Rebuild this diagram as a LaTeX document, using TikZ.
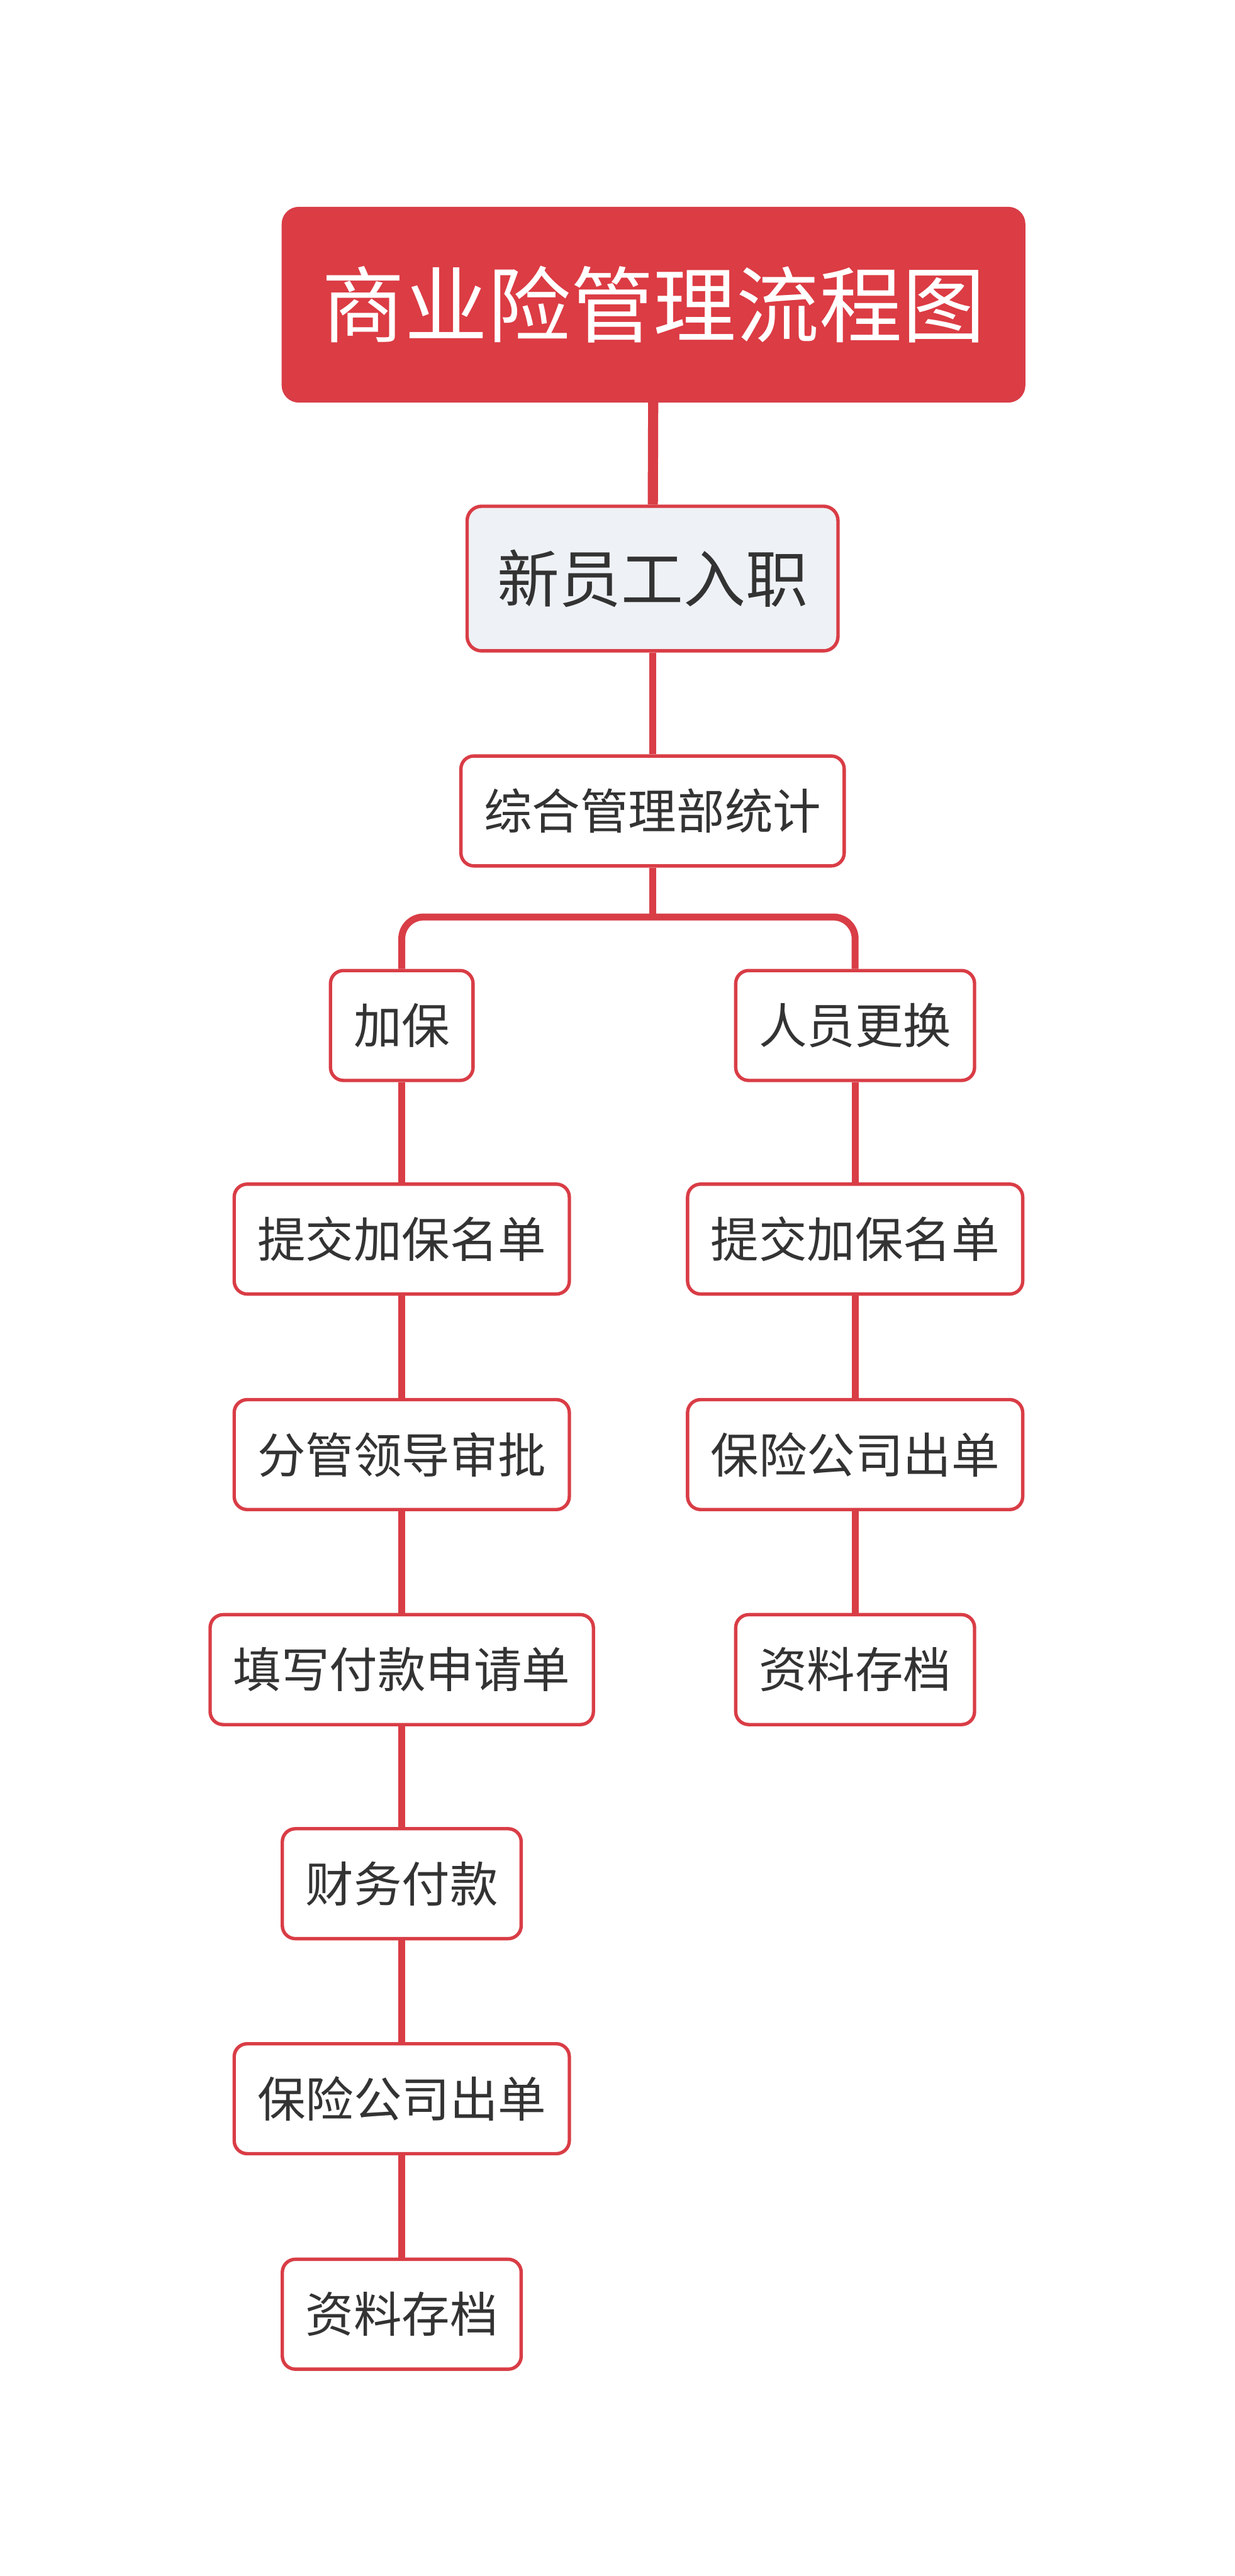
\documentclass[tikz,border=0pt]{standalone}
\usepackage{fontspec}
\newfontfamily\cjk{Noto Sans CJK SC}
\usetikzlibrary{positioning,calc}
\definecolor{topred}{HTML}{DC3C44}
\definecolor{edge}{HTML}{D93D46}
\definecolor{subfill}{HTML}{EEF1F5}
\definecolor{ink}{HTML}{333333}
\tikzset{
  % ---- boxes -----------------------------------------------------
  ttl/.style  = {rectangle, rounded corners=0.32cm, fill=topred, draw=edge,
                 line width=2pt, text=white, inner xsep=0.8cm, inner ysep=0pt,
                 minimum height=3.99cm,
                 font=\cjk\fontsize{48.9}{52}\selectfont},
  sub/.style  = {rectangle, rounded corners=0.3cm, fill=subfill, draw=edge,
                 line width=2pt, text=ink, inner xsep=0.62cm, inner ysep=0pt,
                 minimum height=3.00cm,
                 font=\cjk\fontsize{36.7}{40}\selectfont},
  itm/.style  = {rectangle, rounded corners=0.27cm, fill=white, draw=edge,
                 line width=2pt, text=ink, inner xsep=0.48cm, inner ysep=0pt,
                 minimum height=2.28cm,
                 font=\cjk\fontsize{28.4}{31}\selectfont},
  % ---- connectors ------------------------------------------------
  lnk/.style  = {draw=edge, line width=4.1pt},
  lnkbig/.style = {draw=edge, line width=6pt},
}
\begin{document}
\begin{tikzpicture}
\useasboundingbox (0,0) rectangle (25.6,-53.43);
\node[ttl] (top) at (13.55, -6.32) {商业险管理流程图};
\node[sub] (join) at (13.53, -12.00) {新员工入职};
\node[itm] (stat) at (13.53, -16.82) {综合管理部统计};
\coordinate (fork) at (13.53, -19.02);
% ---- left branch ---------------------------------------------------
\node[itm] (add) at (8.33, -21.27) {加保};
\node[itm] (addA) at (8.33, -25.70) {提交加保名单};
\node[itm] (addB) at (8.33, -30.17) {分管领导审批};
\node[itm] (addC) at (8.33, -34.63) {填写付款申请单};
\node[itm] (addD) at (8.33, -39.07) {财务付款};
\node[itm] (addE) at (8.33, -43.53) {保险公司出单};
\node[itm] (addF) at (8.33, -48.00) {资料存档};
% ---- right branch --------------------------------------------------
\node[itm] (swap) at (17.73, -21.27) {人员更换};
\node[itm] (swapA) at (17.73, -25.70) {提交加保名单};
\node[itm] (swapB) at (17.73, -30.17) {保险公司出单};
\node[itm] (swapC) at (17.73, -34.63) {资料存档};
% ---- links ---------------------------------------------------------
\draw[lnkbig] (top) -- (join);
\draw[lnk] (join) -- (stat);
\draw[lnk] (stat) -- (fork);
\draw[lnk, rounded corners=0.45cm] (fork) -| (add);
\draw[lnk, rounded corners=0.45cm] (fork) -| (swap);
\draw[lnk] (add) -- (addA);
\draw[lnk] (addA) -- (addB);
\draw[lnk] (addB) -- (addC);
\draw[lnk] (addC) -- (addD);
\draw[lnk] (addD) -- (addE);
\draw[lnk] (addE) -- (addF);
\draw[lnk] (swap) -- (swapA);
\draw[lnk] (swapA) -- (swapB);
\draw[lnk] (swapB) -- (swapC);
\end{tikzpicture}
\end{document}
